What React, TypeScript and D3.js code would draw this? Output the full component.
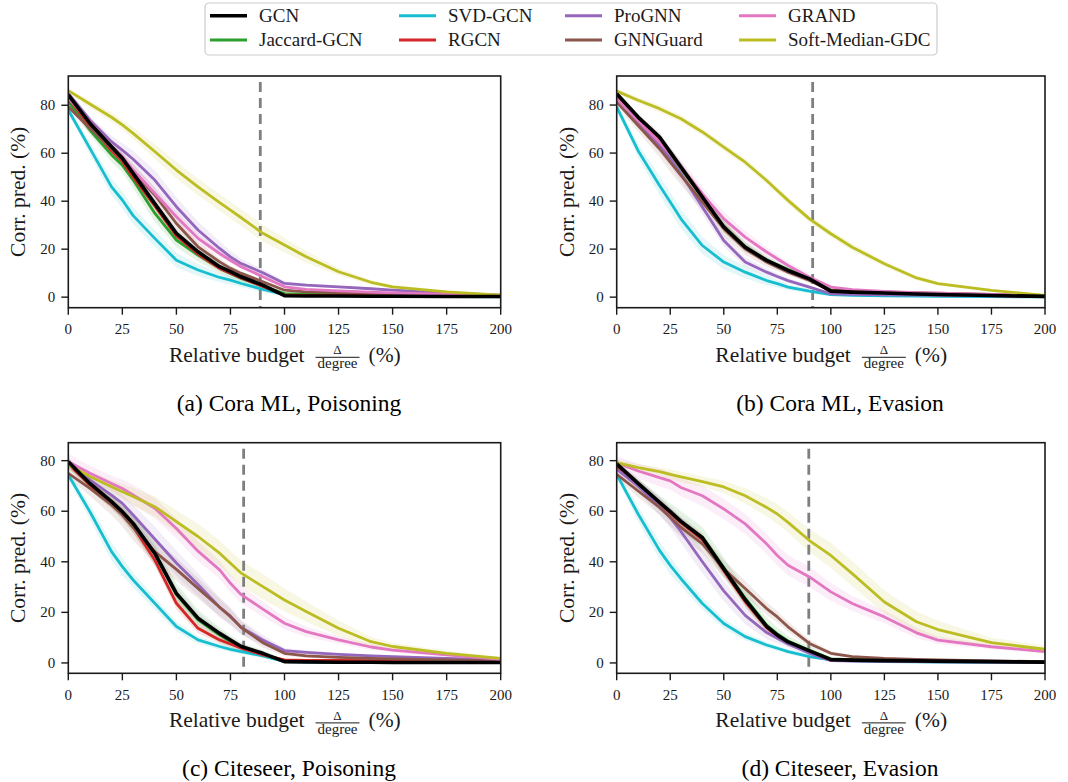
import React from 'react';
import * as d3 from 'd3';

const BUDGETS = [0, 10, 20, 25, 30, 40, 50, 60, 70, 75, 80, 90, 100, 110, 125, 140, 150, 175, 200];
const MODELS = ['GCN', 'Jaccard-GCN', 'SVD-GCN', 'RGCN', 'ProGNN', 'GNNGuard', 'GRAND', 'Soft-Median-GDC'];
const COLORS = ['#000000', '#2ca02c', '#17becf', '#d62728', '#9467bd', '#8c564b', '#e377c2', '#bcbd22'];
const DRAW_ORDER = [2, 1, 3, 4, 5, 6, 7, 0];
const X_TICKS = [0, 25, 50, 75, 100, 125, 150, 175, 200];
const Y_TICKS = [0, 20, 40, 60, 80];
const TITLES = ['(a) Cora ML, Poisoning', '(b) Cora ML, Evasion', '(c) Citeseer, Poisoning', '(d) Citeseer, Evasion'];
const DASHED_AT = [88.8, 91.5, 81.1, 89.7];
const Y_DOMAINS = [[-4.4, 92.2], [-4.4, 92.1], [-4.1, 87.1], [-4.1, 87.1]];

// ---- (a) Cora ML, Poisoning ----
const coraPoisGCN = [84.3, 72.5, 62.7, 57.9, 51.6, 39, 26.6, 18.9, 12.7, 10.6, 8.5, 5, 0.6, 0.5, 0.5, 0.4, 0.4, 0.3, 0.3];
const coraPoisJaccard = [81.5, 69.7, 59.3, 55, 48.8, 35, 23.8, 17.5, 12, 9.9, 7.8, 4.6, 1.5, 1.3, 1.2, 1.0, 0.9, 0.7, 0.5];
const coraPoisSVD = [78, 62, 46, 40.5, 34, 24.5, 15.4, 11.3, 8.2, 7.1, 5.7, 3.2, 1.0, 0.7, 0.5, 0.4, 0.3, 0.2, 0.1];
const coraPoisRGCN = [83, 71.5, 61, 56.5, 50, 38, 25.5, 18, 12, 10, 8, 4.5, 0.8, 0.7, 0.7, 0.6, 0.6, 0.5, 0.4];
const coraPoisProGNN = [85, 73.9, 64.8, 61.3, 57.5, 48.8, 37.7, 28, 20.3, 16.8, 14, 10.2, 5.7, 5, 4.3, 3.5, 2.9, 1.8, 0.8];
const coraPoisGNNGuard = [79.4, 70.4, 62, 57.2, 52.3, 42.6, 30.7, 21, 14.7, 12, 9.9, 6.4, 2.9, 2.2, 1.9, 1.7, 1.5, 1.1, 0.6];
const coraPoisGRAND = [83, 73, 63, 58.6, 53, 43.3, 33.5, 24.5, 18.2, 15.4, 12.7, 8.5, 4.3, 3.2, 2.6, 2.1, 1.8, 1.2, 0.7];
const coraPoisSoft = [86.1, 80.5, 75, 71.8, 68.3, 60.7, 53, 46, 39.4, 36.3, 33.1, 26.6, 21.7, 16.8, 10.6, 6.2, 4.3, 2.2, 0.8];

const coraPoisGCNStd = [1, 1.5, 2, 2, 2, 2, 2, 1.5, 1.2, 1, 0.8, 0.6, 0.3, 0.2, 0.2, 0.2, 0.1, 0.1, 0.1];
const coraPoisJaccardStd = [1, 2, 3, 3, 3.5, 3.5, 3, 2.5, 2, 1.8, 1.5, 1, 0.5, 0.4, 0.3, 0.3, 0.3, 0.2, 0.2];
const coraPoisSVDStd = [1, 2.5, 3.5, 3.5, 3.5, 3.5, 3, 2.5, 2, 1.8, 1.5, 1.2, 0.5, 0.3, 0.2, 0.2, 0.1, 0.1, 0.1];
const coraPoisRGCNStd = [1, 1.5, 2, 2, 2, 2, 2, 1.5, 1.2, 1, 0.8, 0.6, 0.3, 0.2, 0.2, 0.2, 0.1, 0.1, 0.1];
const coraPoisProGNNStd = [1, 1.5, 2.5, 3, 3.5, 4, 4, 3.5, 3, 2.5, 2, 1.5, 1, 0.8, 0.6, 0.5, 0.4, 0.3, 0.2];
const coraPoisGNNGuardStd = [1.5, 2, 3, 3, 3, 3, 2.5, 2, 1.5, 1.2, 1, 0.8, 0.5, 0.4, 0.3, 0.3, 0.3, 0.2, 0.2];
const coraPoisGRANDStd = [1, 1.5, 2, 2, 2.5, 2.5, 2.5, 2, 1.5, 1.2, 1, 0.8, 0.5, 0.4, 0.3, 0.3, 0.2, 0.2, 0.1];
const coraPoisSoftStd = [1, 1.5, 2, 2, 2.5, 3, 3.5, 3.5, 3.5, 3.5, 3.5, 3.5, 3, 2.5, 1.5, 1, 0.8, 0.5, 0.3];

// ---- (b) Cora ML, Evasion ----
const coraEvaGCN = [84.7, 75, 66.7, 60.4, 54.2, 41.7, 29.2, 20.8, 15.3, 13.2, 11.1, 7.6, 2.5, 2.1, 1.7, 1.3, 1.1, 0.7, 0.3];
const coraEvaJaccard = [83.5, 74, 65.5, 59.5, 53.5, 41.5, 29.5, 21, 15.5, 13.5, 11.5, 8, 3, 2.6, 2.2, 1.8, 1.5, 1, 0.5];
const coraEvaSVD = [79.2, 61, 46.5, 39.6, 32.6, 21.5, 14.6, 10.4, 6.9, 5.6, 4.2, 2.5, 1.1, 0.7, 0.5, 0.4, 0.3, 0.2, 0.1];
const coraEvaRGCN = [84, 74.5, 66, 60, 54, 42, 29, 20.5, 15, 13, 11, 7.3, 2.3, 2, 1.6, 1.2, 1.0, 0.6, 0.3];
const coraEvaProGNN = [82.6, 73, 63.2, 57.6, 51.4, 37.5, 23.6, 14.6, 10.4, 8.6, 6.9, 4.2, 1.4, 1.2, 1.0, 0.8, 0.7, 0.5, 0.3];
const coraEvaGNNGuard = [81.3, 71.5, 61.8, 56.2, 50.7, 39.6, 28.5, 20.1, 14.6, 12.5, 10.4, 6.9, 2.8, 2.4, 2.1, 1.8, 1.7, 1.1, 0.6];
const coraEvaGRAND = [82.6, 73.6, 64.6, 59.7, 54.2, 43, 32.6, 25, 18.8, 16, 13.2, 8.3, 4.2, 3.1, 2.4, 1.9, 1.7, 1.1, 0.6];
const coraEvaSoft = [85.8, 82, 78.5, 76.4, 74.3, 68.8, 62.5, 56.2, 48.6, 44.4, 40.3, 32.6, 26.4, 20.8, 13.9, 8, 5.6, 2.8, 0.7];

const coraEvaGCNStd = [1, 1.5, 2, 2, 2, 2, 2, 1.5, 1.2, 1, 1, 0.8, 0.4, 0.3, 0.3, 0.2, 0.2, 0.1, 0.1];
const coraEvaJaccardStd = [1, 1.5, 2, 2, 2.5, 2.5, 2.5, 2, 1.5, 1.2, 1, 0.8, 0.4, 0.3, 0.3, 0.2, 0.2, 0.1, 0.1];
const coraEvaSVDStd = [1.5, 3, 4, 4, 4, 3.5, 3, 2.5, 2, 1.5, 1.2, 1, 0.5, 0.3, 0.2, 0.2, 0.1, 0.1, 0.1];
const coraEvaRGCNStd = [1, 1.5, 2, 2, 2, 2, 2, 1.5, 1.2, 1, 1, 0.8, 0.4, 0.3, 0.3, 0.2, 0.2, 0.1, 0.1];
const coraEvaProGNNStd = [1, 2, 3, 3, 3, 3, 2.5, 2, 1.5, 1.2, 1, 0.8, 0.4, 0.3, 0.3, 0.2, 0.2, 0.1, 0.1];
const coraEvaGNNGuardStd = [1.5, 2.5, 3.5, 4, 4, 3.5, 3, 2.5, 2, 1.5, 1.2, 1, 0.5, 0.4, 0.3, 0.3, 0.2, 0.2, 0.1];
const coraEvaGRANDStd = [1, 1.5, 2, 2.5, 3, 3, 3, 2.5, 2, 1.8, 1.5, 1.2, 0.8, 0.6, 0.4, 0.3, 0.3, 0.2, 0.1];
const coraEvaSoftStd = [1, 1.2, 1.5, 1.5, 1.5, 1.5, 1.5, 1.5, 1.5, 1.5, 1.5, 1.5, 1.5, 1.5, 1.2, 1, 0.8, 0.5, 0.3];

// ---- (c) Citeseer, Poisoning ----
const citePoisGCN = [79.6, 71, 63.8, 59.8, 55.2, 43.4, 27.5, 17.7, 11.7, 9.1, 6.5, 3.8, 0.5, 0.4, 0.3, 0.3, 0.2, 0.2, 0.2];
const citePoisJaccard = [79, 70.5, 63.5, 59.5, 55, 43, 27, 17, 11, 8.5, 6.2, 3.5, 0.8, 0.6, 0.5, 0.5, 0.4, 0.3, 0.3];
const citePoisSVD = [74.3, 59.8, 44, 38.1, 32.8, 23.6, 14.4, 9.1, 6.5, 5.4, 4.5, 2.8, 0.5, 0.3, 0.2, 0.2, 0.2, 0.1, 0.1];
const citePoisRGCN = [78.7, 70.4, 63.1, 59.2, 53.9, 40.7, 23.6, 13.7, 9.1, 7.5, 5.8, 3.2, 1.2, 1.05, 1.0, 0.9, 0.8, 0.6, 0.5];
const citePoisProGNN = [79, 72.4, 66.4, 63.1, 58.5, 49, 39.5, 31, 22, 18.5, 14, 9.1, 4.9, 4.2, 3.4, 2.8, 2.5, 1.8, 1.2];
const citePoisGNNGuard = [75, 69, 62.5, 58.5, 53.5, 44, 37, 29.5, 22, 18.3, 14, 8, 3.8, 2.8, 2.2, 1.8, 1.6, 1.2, 0.8];
const citePoisGRAND = [79.6, 75, 71, 69, 66.4, 61.2, 53.2, 44.2, 36.8, 31.5, 27, 21.3, 15.7, 12.4, 9.1, 6.3, 5.1, 3.2, 1.4];
const citePoisSoft = [78.3, 73.7, 69.7, 67.7, 65.8, 61.8, 55.9, 50, 43.4, 39.4, 35.5, 30.2, 24.9, 20.3, 13.7, 8.4, 6.5, 3.8, 1.8];

const citePoisGCNStd = [1.5, 2, 2, 2, 2.5, 2.5, 2.5, 2, 1.5, 1.2, 1, 0.8, 0.3, 0.2, 0.2, 0.2, 0.1, 0.1, 0.1];
const citePoisJaccardStd = [1.5, 2, 2.5, 3, 3.5, 4, 4.5, 4, 3, 2.5, 2, 1.5, 0.5, 0.3, 0.2, 0.2, 0.2, 0.1, 0.1];
const citePoisSVDStd = [1.5, 3, 3.5, 3.5, 3, 2.5, 2, 1.5, 1.2, 1, 1, 0.8, 0.3, 0.2, 0.2, 0.1, 0.1, 0.1, 0.1];
const citePoisRGCNStd = [1.5, 2, 2, 2, 2.5, 2.5, 2.5, 2, 1.5, 1.2, 1, 0.8, 0.3, 0.2, 0.2, 0.2, 0.1, 0.1, 0.1];
const citePoisProGNNStd = [2, 2, 3, 3.5, 4, 5, 5, 4.5, 4, 3.5, 3, 2, 1, 0.8, 0.6, 0.5, 0.5, 0.3, 0.2];
const citePoisGNNGuardStd = [2, 3, 4, 4.5, 5, 5, 4.5, 4, 3.5, 3, 2.5, 2, 1, 0.8, 0.6, 0.5, 0.4, 0.3, 0.2];
const citePoisGRANDStd = [3, 3, 3, 3.5, 4, 4, 4, 4, 3.5, 3.5, 3.5, 3, 2.5, 2, 1.5, 1.2, 1, 0.8, 0.5];
const citePoisSoftStd = [2, 2, 2.5, 3, 3.5, 4, 4.5, 5, 5, 5, 5, 5, 4.5, 4, 3, 2, 1.5, 1, 0.5];

// ---- (d) Citeseer, Evasion ----
const citeEvaGCN = [78.7, 71, 63.5, 59.8, 56, 49.5, 37.2, 25, 14.5, 11, 8.3, 4.8, 1.3, 1.1, 0.9, 0.8, 0.7, 0.5, 0.3];
const citeEvaJaccard = [78.2, 70.7, 63.3, 59.7, 56, 49.8, 37.7, 25.6, 15, 11.5, 8.7, 5, 1.6, 1.3, 1.1, 0.9, 0.8, 0.6, 0.4];
const citeEvaSVD = [74.6, 58.9, 44.5, 38.6, 33.3, 23.5, 15.6, 10.4, 7.1, 5.8, 4.5, 2.5, 1.2, 0.8, 0.5, 0.4, 0.3, 0.2, 0.1];
const citeEvaRGCN = [78, 70.3, 62.8, 59.2, 55.5, 48.8, 36.5, 24.2, 14, 10.6, 7.8, 4.5, 1.3, 1.1, 0.9, 0.8, 0.7, 0.5, 0.3];
const citeEvaProGNN = [76.6, 70, 62, 57.5, 52, 40, 28.5, 18.8, 12, 9.8, 7.5, 3.8, 0.9, 0.7, 0.6, 0.5, 0.4, 0.3, 0.2];
const citeEvaGNNGuard = [74.6, 68, 61.5, 57.6, 53.6, 47.1, 37.2, 29.4, 21.5, 18.2, 14.3, 7.7, 3.8, 2.5, 1.8, 1.4, 1.2, 0.8, 0.5];
const citeEvaGRAND = [79.2, 75.9, 73.3, 72, 69.4, 66.1, 60.9, 55, 47.1, 42.5, 38.6, 34, 28.1, 23.5, 18.2, 11.9, 9, 6.4, 4.5];
const citeEvaSoft = [79.2, 77.2, 75.7, 74.6, 73.6, 71.7, 69.6, 66.1, 61.5, 58.9, 55.6, 48.4, 42.5, 35.3, 24.1, 16.3, 13.2, 8, 5.4];

const citeEvaGCNStd = [1.5, 2, 2, 2, 2, 2, 2, 2, 1.5, 1.2, 1, 0.8, 0.3, 0.2, 0.2, 0.2, 0.1, 0.1, 0.1];
const citeEvaJaccardStd = [1.5, 2, 3, 3.5, 4, 4, 4, 3.5, 3, 2.5, 2, 1.5, 0.5, 0.3, 0.2, 0.2, 0.2, 0.1, 0.1];
const citeEvaSVDStd = [1.5, 3, 3.5, 3.5, 3, 2.5, 2, 1.5, 1.2, 1, 1, 0.8, 0.3, 0.2, 0.2, 0.1, 0.1, 0.1, 0.1];
const citeEvaRGCNStd = [1.5, 2, 2, 2, 2, 2, 2, 2, 1.5, 1.2, 1, 0.8, 0.3, 0.2, 0.2, 0.2, 0.1, 0.1, 0.1];
const citeEvaProGNNStd = [1.5, 2.5, 3.5, 4, 4.5, 4.5, 4, 3.5, 2.5, 2, 1.5, 1, 0.5, 0.3, 0.3, 0.2, 0.2, 0.1, 0.1];
const citeEvaGNNGuardStd = [1.5, 2.5, 3, 3.5, 3.5, 3.5, 3.5, 3, 2.5, 2.2, 2, 1.5, 0.8, 0.5, 0.4, 0.3, 0.3, 0.2, 0.2];
const citeEvaGRANDStd = [2.5, 3, 3.5, 3.5, 3.5, 4, 4, 4, 4, 4, 4, 4, 3.5, 3, 2.5, 2, 1.5, 1, 0.8];
const citeEvaSoftStd = [1.5, 1.5, 1.5, 2, 2, 2, 2.5, 3, 3.5, 4, 4, 4.5, 5, 5, 4.5, 4, 3.5, 2, 1.5];

const PANEL_MEANS = [
  [coraPoisGCN, coraPoisJaccard, coraPoisSVD, coraPoisRGCN, coraPoisProGNN, coraPoisGNNGuard, coraPoisGRAND, coraPoisSoft],
  [coraEvaGCN, coraEvaJaccard, coraEvaSVD, coraEvaRGCN, coraEvaProGNN, coraEvaGNNGuard, coraEvaGRAND, coraEvaSoft],
  [citePoisGCN, citePoisJaccard, citePoisSVD, citePoisRGCN, citePoisProGNN, citePoisGNNGuard, citePoisGRAND, citePoisSoft],
  [citeEvaGCN, citeEvaJaccard, citeEvaSVD, citeEvaRGCN, citeEvaProGNN, citeEvaGNNGuard, citeEvaGRAND, citeEvaSoft],
];
const PANEL_STDS = [
  [coraPoisGCNStd, coraPoisJaccardStd, coraPoisSVDStd, coraPoisRGCNStd, coraPoisProGNNStd, coraPoisGNNGuardStd, coraPoisGRANDStd, coraPoisSoftStd],
  [coraEvaGCNStd, coraEvaJaccardStd, coraEvaSVDStd, coraEvaRGCNStd, coraEvaProGNNStd, coraEvaGNNGuardStd, coraEvaGRANDStd, coraEvaSoftStd],
  [citePoisGCNStd, citePoisJaccardStd, citePoisSVDStd, citePoisRGCNStd, citePoisProGNNStd, citePoisGNNGuardStd, citePoisGRANDStd, citePoisSoftStd],
  [citeEvaGCNStd, citeEvaJaccardStd, citeEvaSVDStd, citeEvaRGCNStd, citeEvaProGNNStd, citeEvaGNNGuardStd, citeEvaGRANDStd, citeEvaSoftStd],
];

// layout (pixels)
const LAYOUT = [
  { left: 68.3, right: 500.7, top: 76, bottom: 307.7, titleX: 289, titleY: 411 },
  { left: 616.7, right: 1045, top: 76, bottom: 307.7, titleX: 840, titleY: 411 },
  { left: 68.3, right: 500.7, top: 442.7, bottom: 673.3, titleX: 289, titleY: 776 },
  { left: 616.7, right: 1045, top: 442.7, bottom: 673.3, titleX: 840, titleY: 776 },
];

const SERIF = 'Liberation Serif';
const INK = '#1a1a1a';

const txt = (size: number) => ({ fontFamily: SERIF, fontSize: `${size}px` });

function Panel({ idx }: { idx: number }) {
  const L = LAYOUT[idx];
  const x = d3.scaleLinear().domain([0, 200]).range([L.left, L.right]);
  const y = d3.scaleLinear().domain(Y_DOMAINS[idx]).range([L.bottom, L.top]);
  const means = PANEL_MEANS[idx];
  const stds = PANEL_STDS[idx];
  const clipId = `clip-${idx}`;
  const cx = (L.left + L.right) / 2;
  const xlBase = L.bottom + 54;

  const lineGen = d3
    .line<number>()
    .x((_, i) => x(BUDGETS[i]))
    .y((d) => y(d));

  return (
    <g>
      <defs>
        <clipPath id={clipId}>
          <rect x={L.left} y={L.top} width={L.right - L.left} height={L.bottom - L.top} />
        </clipPath>
      </defs>
      <g clipPath={`url(#${clipId})`}>
        {DRAW_ORDER.map((m) => {
          const s = stds[m];
          const areaGen = d3
            .area<number>()
            .x((_, i) => x(BUDGETS[i]))
            .y0((d, i) => y(d - s[i]))
            .y1((d, i) => y(d + s[i]));
          return (
            <path key={`a${m}`} d={areaGen(means[m]) || ''} fill={COLORS[m]} fillOpacity={m === 0 ? 0.06 : 0.12} stroke="none" />
          );
        })}
        <line
          x1={x(DASHED_AT[idx])}
          x2={x(DASHED_AT[idx])}
          y1={L.top + 6}
          y2={L.bottom}
          stroke="#7f7f7f"
          strokeWidth={2.8}
          strokeDasharray="10,6"
        />
        {DRAW_ORDER.map((m) => (
          <path
            key={`l${m}`}
            d={lineGen(means[m]) || ''}
            fill="none"
            stroke={COLORS[m]}
            strokeWidth={m === 0 ? 3.6 : 2.8}
            strokeLinejoin="round"
            strokeLinecap="butt"
          />
        ))}
      </g>
      <rect
        x={L.left}
        y={L.top}
        width={L.right - L.left}
        height={L.bottom - L.top}
        fill="none"
        stroke={INK}
        strokeWidth={1.6}
      />
      {X_TICKS.map((t) => (
        <g key={`xt${t}`}>
          <line x1={x(t)} x2={x(t)} y1={L.bottom} y2={L.bottom + 7} stroke={INK} strokeWidth={1.4} />
          <text x={x(t)} y={L.bottom + 26.5} textAnchor="middle" style={txt(15)} fill={INK}>
            {t}
          </text>
        </g>
      ))}
      {Y_TICKS.map((t) => (
        <g key={`yt${t}`}>
          <line x1={L.left - 7} x2={L.left} y1={y(t)} y2={y(t)} stroke={INK} strokeWidth={1.4} />
          <text x={L.left - 13} y={y(t) + 5} textAnchor="end" style={txt(15)} fill={INK}>
            {t}
          </text>
        </g>
      ))}
      <text
        transform={`translate(${L.left - 43},${(L.top + L.bottom) / 2}) rotate(-90)`}
        textAnchor="middle"
        style={txt(21.5)}
        fill={INK}
      >
        Corr. pred. (%)
      </text>
      <text x={cx + 20} y={xlBase} textAnchor="end" style={txt(21.5)} fill={INK}>
        Relative budget
      </text>
      <text x={cx + 53} y={xlBase - 7.5} textAnchor="middle" style={txt(13)} fill={INK}>
        Δ
      </text>
      <line x1={cx + 31} x2={cx + 75} y1={xlBase - 4.4} y2={xlBase - 4.4} stroke={INK} strokeWidth={1} />
      <text x={cx + 53} y={xlBase + 6.5} textAnchor="middle" style={txt(15)} fill={INK}>
        degree
      </text>
      <text x={cx + 84} y={xlBase} textAnchor="start" style={txt(21.5)} fill={INK}>
        (%)
      </text>
      <text x={L.titleX} y={L.titleY} textAnchor="middle" style={txt(23.5)} fill="#000">
        {TITLES[idx]}
      </text>
    </g>
  );
}

function Legend() {
  const colX = [210, 399, 565, 739];
  const rowY = [15.7, 40];
  return (
    <g>
      <rect x={205} y={3} width={732} height={52} rx={4} fill="#fff" stroke="#cccccc" strokeWidth={1.2} />
      {MODELS.map((name, i) => {
        const c = Math.floor(i / 2);
        const r = i % 2;
        const x0 = colX[c];
        const yy = rowY[r];
        return (
          <g key={name}>
            <line x1={x0} x2={x0 + 37} y1={yy} y2={yy} stroke={COLORS[i]} strokeWidth={i === 0 ? 3.6 : 3} />
            <text x={x0 + 49} y={yy + 6} style={txt(19)} fill={INK}>
              {name}
            </text>
          </g>
        );
      })}
    </g>
  );
}

export default function App() {
  return (
    <svg
      width={1068}
      height={782}
      viewBox="0 0 1068 782"
      style={{ position: 'absolute', left: 0, top: 0, background: '#fff' }}
    >
      <rect x={0} y={0} width={1068} height={782} fill="#fff" />
      {[0, 1, 2, 3].map((i) => (
        <Panel key={i} idx={i} />
      ))}
      <Legend />
    </svg>
  );
}
